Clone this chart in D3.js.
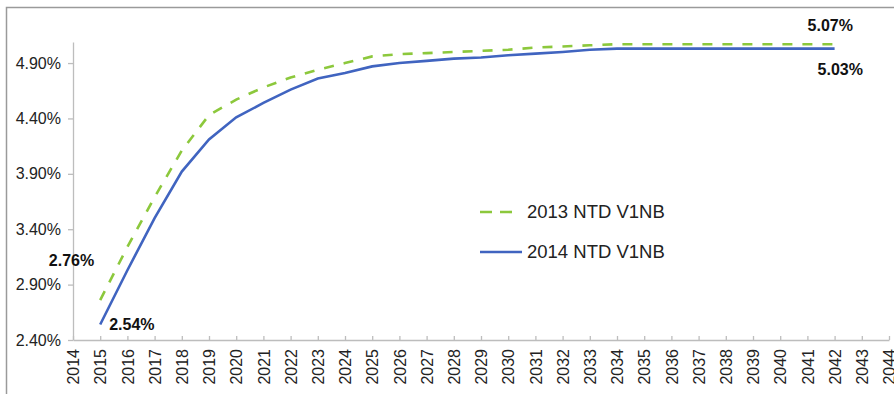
<!DOCTYPE html>
<html>
<head>
<meta charset="utf-8">
<script src="https://cdn.jsdelivr.net/npm/d3@7/dist/d3.min.js"></script>
<style>
  html, body { margin: 0; padding: 0; background: #fff; }
  svg { display: block; }
  text { font-family: "Liberation Sans", Arial, sans-serif; }
</style>
</head>
<body>
<svg id="chart" width="894" height="394"></svg>
<script>
// Discount rate curves, two projection vintages
const years = d3.range(2014, 2045);
const seriesYears = d3.range(2015, 2043);
const rates2013 = [2.76, 3.24, 3.69, 4.11, 4.43, 4.57, 4.68, 4.77, 4.84, 4.90, 4.96, 4.98, 4.99, 5.00, 5.01, 5.02, 5.04, 5.05, 5.06, 5.07, 5.07, 5.07, 5.07, 5.07, 5.07, 5.07, 5.07, 5.07];
const rates2014 = [2.54, 3.03, 3.50, 3.92, 4.21, 4.41, 4.54, 4.66, 4.76, 4.81, 4.87, 4.90, 4.92, 4.94, 4.95, 4.97, 4.985, 5.00, 5.02, 5.03, 5.03, 5.03, 5.03, 5.03, 5.03, 5.03, 5.03, 5.03];
const yTicks = [2.40, 2.90, 3.40, 3.90, 4.40, 4.90];
const seriesNames = ["2013 NTD V1NB", "2014 NTD V1NB"];

const svg = d3.select("#chart");
const W = 894, H = 394;

// outer frame (top and left edges visible)
svg.append("path")
  .attr("d", `M6.5,${H} L6.5,7.5 L${W},7.5`)
  .attr("fill", "none").attr("stroke", "#9a9a9a").attr("stroke-width", 1.5);

const x = d3.scaleLinear().domain([2014, 2044]).range([73, 889]);
const y = d3.scaleLinear().domain([2.4, 5.09]).range([340, 42]);

const axisColor = "#bdbdbd";
const textColor = "#222";

// y axis
const yAxis = svg.append("g").attr("transform", "translate(73,0)")
  .call(d3.axisLeft(y).tickValues(yTicks).tickSizeInner(5).tickSizeOuter(0).tickPadding(7)
    .tickFormat(d => d.toFixed(2) + "%"));
yAxis.select(".domain").attr("stroke", axisColor).attr("stroke-width", 1.3);
yAxis.selectAll(".tick line").attr("stroke", axisColor).attr("stroke-width", 1.3);
yAxis.selectAll(".tick text").attr("fill", textColor).style("font-size", "16px")
  .style("font-family", "'Liberation Sans', Arial, sans-serif");

// x axis, ticks pointing up into the plot, labels rotated
const xAxis = svg.append("g").attr("transform", "translate(0,340)")
  .call(d3.axisBottom(x).tickValues(years).tickSizeInner(-4).tickSizeOuter(0)
    .tickFormat(d3.format("d")));
xAxis.select(".domain").attr("stroke", axisColor).attr("stroke-width", 1.3);
xAxis.selectAll(".tick line").attr("stroke", axisColor).attr("stroke-width", 1.3);
xAxis.selectAll(".tick text")
  .attr("fill", textColor).style("font-size", "16px")
  .style("font-family", "'Liberation Sans', Arial, sans-serif")
  .attr("transform", "rotate(-90)")
  .attr("text-anchor", "end")
  .attr("x", -9).attr("y", 0).attr("dy", "0.35em");

const line = d3.line().x((d, i) => x(seriesYears[i])).y(d => y(d));

svg.append("path").datum(rates2013)
  .attr("d", line).attr("fill", "none")
  .attr("stroke", "#8cc83c").attr("stroke-width", 2.6)
  .attr("stroke-dasharray", "10,10");

svg.append("path").datum(rates2014)
  .attr("d", line).attr("fill", "none")
  .attr("stroke", "#4064c0").attr("stroke-width", 2.6);

// value labels at the ends of each curve
const labelStyle = sel => sel.attr("fill", "#111").style("font-size", "16px").style("font-weight", "bold");
const first = 0, last = rates2013.length - 1;
svg.append("text").call(labelStyle)
  .attr("x", x(seriesYears[first]) - 6).attr("y", y(rates2013[first]) - 40)
  .attr("text-anchor", "end").attr("dy", "0.35em")
  .text(rates2013[first].toFixed(2) + "%");
svg.append("text").call(labelStyle)
  .attr("x", x(seriesYears[first]) + 9).attr("y", y(rates2014[first]))
  .attr("dy", "0.35em")
  .text(rates2014[first].toFixed(2) + "%");
svg.append("text").call(labelStyle)
  .attr("x", x(seriesYears[last]) - 27).attr("y", y(rates2013[last]) - 19)
  .attr("dy", "0.35em")
  .text(rates2013[last].toFixed(2) + "%");
svg.append("text").call(labelStyle)
  .attr("x", x(seriesYears[last]) - 17).attr("y", y(rates2014[last]) + 21)
  .attr("dy", "0.35em")
  .text(rates2014[last].toFixed(2) + "%");

// legend
const legend = svg.append("g").attr("transform", "translate(480,0)");
const rows = [
  { name: seriesNames[0], color: "#8cc83c", dash: "12,8", y: 212, len: 35 },
  { name: seriesNames[1], color: "#4064c0", dash: null, y: 252, len: 42 }
];
rows.forEach(r => {
  legend.append("line").attr("x1", 0).attr("x2", r.len).attr("y1", r.y).attr("y2", r.y)
    .attr("stroke", r.color).attr("stroke-width", 2.6)
    .attr("stroke-dasharray", r.dash);
  legend.append("text").attr("x", 47).attr("y", r.y).attr("dy", "0.35em")
    .attr("fill", textColor).style("font-size", "18.5px").text(r.name);
});
</script>
</body>
</html>
